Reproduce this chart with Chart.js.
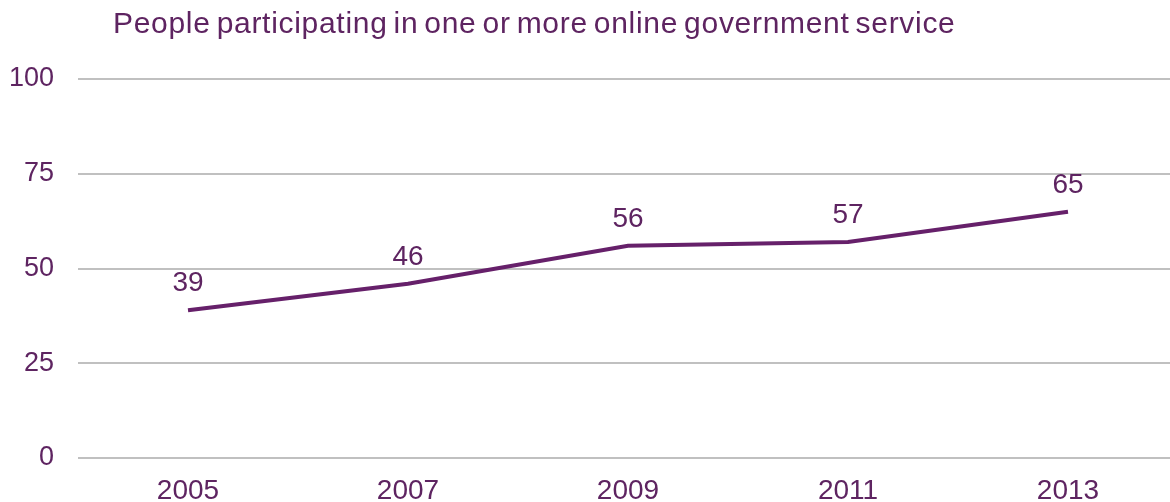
<!DOCTYPE html>
<html lang="en">
<head>
<meta charset="UTF-8">
<title>Online government services</title>
<script src="https://cdn.jsdelivr.net/npm/chart.js@4.4.0/dist/chart.umd.min.js"></script>
<style>
    html, body { margin: 0; padding: 0; background: #fff; overflow: hidden; }
    .wrap { position: relative; width: 1180px; height: 515px; }
    .chart-title {
        position: absolute; left: 113px; top: 5px;
        font-family: "Liberation Sans", Arial, sans-serif;
        font-size: 30px; line-height: 36px; color: #5e2461; white-space: nowrap;
        word-spacing: -3px; letter-spacing: 0.7px;
    }
    canvas { display: block; }
</style>
</head>
<body>
<div class="wrap">
    <div class="chart-title">People participating in one or more online government service</div>
    <canvas id="chart" width="1180" height="515"></canvas>
</div>

<script>
    const years = ['2005', '2007', '2009', '2011', '2013'];
    const participation = [39, 46, 56, 57, 65];
    const yTicks = [0, 25, 50, 75, 100];

    const purple = '#5e2461';
    const font = 'Liberation Sans, Arial, sans-serif';

    // value labels drawn just above each point
    const valueLabels = {
        id: 'valueLabels',
        afterDatasetsDraw(chart) {
            const ctx = chart.ctx;
            const meta = chart.getDatasetMeta(0);
            ctx.save();
            ctx.fillStyle = purple;
            ctx.font = '28px ' + font;
            ctx.textAlign = 'center';
            ctx.textBaseline = 'alphabetic';
            meta.data.forEach((pt, i) => {
                ctx.fillText(String(participation[i]), pt.x, pt.y - 19);
            });
            ctx.restore();
        }
    };

    new Chart(document.getElementById('chart'), {
        type: 'line',
        data: {
            labels: years,
            datasets: [{
                data: participation,
                borderColor: '#66206a',
                borderWidth: 4,
                pointRadius: 0,
                tension: 0,
                fill: false
            }]
        },
        options: {
            responsive: false,
            animation: false,
            layout: { padding: { top: 79, right: 2, left: 0, bottom: 0 } },
            plugins: {
                legend: { display: false },
                tooltip: { enabled: false }
            },
            scales: {
                x: {
                    offset: true,
                    grid: { display: false },
                    border: { display: false },
                    ticks: { color: purple, font: { family: font, size: 28 }, padding: 8 },
                    afterFit(scale) { scale.height = 57; }
                },
                y: {
                    min: 0,
                    max: 100,
                    afterBuildTicks(scale) { scale.ticks = yTicks.map(v => ({ value: v })); },
                    grid: { color: '#c0c0c0', lineWidth: 2, drawTicks: false },
                    border: { display: false },
                    ticks: { color: purple, font: { family: font, size: 27 }, padding: 24 },
                    afterFit(scale) { scale.width = 78; }
                }
            }
        },
        plugins: [valueLabels]
    });
</script>
</body>
</html>
